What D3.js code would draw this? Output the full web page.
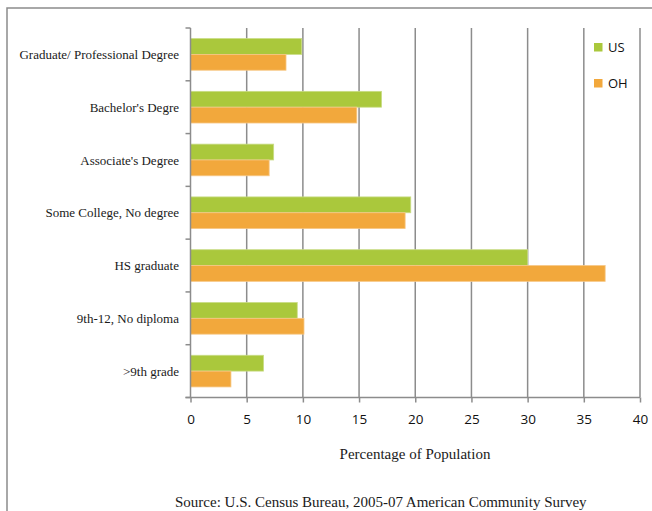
<!DOCTYPE html>
<html>
<head>
<meta charset="utf-8">
<script src="https://cdn.jsdelivr.net/npm/d3@7"></script>
<style>
  body { margin: 0; background: #fff; }
</style>
</head>
<body>
<div id="chart"></div>
<script>
const categories = ['Graduate/ Professional Degree', "Bachelor's Degre", "Associate's Degree",
  'Some College, No degree', 'HS graduate', '9th-12, No diploma', '>9th grade'];
const seriesNames = ['US', 'OH'];
const usValues = [9.9, 17.0, 7.4, 19.6, 30.0, 9.5, 6.5];
const ohValues = [8.5, 14.8, 7.0, 19.1, 36.9, 10.1, 3.6];
const xTicks = [0, 5, 10, 15, 20, 25, 30, 35, 40];
const colors = ['#aac83c', '#f2a83c'];

const data = categories.map((c, i) => ({ cat: c, values: [usValues[i], ohValues[i]] }));

const width = 652;
const height = 511;

const svg = d3.select('#chart')
  .append('svg')
  .attr('width', width)
  .attr('height', height);

// outer frame (top + left)
svg.append('path')
  .attr('d', `M7,511 V8 H652`)
  .attr('fill', 'none')
  .attr('stroke', '#8c8c8c')
  .attr('stroke-width', 1.5);

// plot area
const plotLeft = 190.5;
const plotRight = 640;
const plotTop = 28;
const plotBottom = 397.5;

const xScale = d3.scaleLinear().domain([0, 40]).range([plotLeft, plotRight]);
const yScale = d3.scaleBand().domain(categories).range([plotTop, plotBottom]).paddingInner(0.4).paddingOuter(0.2);
const yFull = d3.scaleBand().domain(categories).range([plotTop, plotBottom]);
const inner = d3.scaleBand().domain(seriesNames).range([0, yScale.bandwidth()]);

// gridlines
svg.append('g')
  .selectAll('line')
  .data(xTicks.slice(1))
  .enter()
  .append('line')
  .attr('x1', (d) => xScale(d))
  .attr('x2', (d) => xScale(d))
  .attr('y1', plotTop)
  .attr('y2', plotBottom)
  .attr('stroke', '#8c8c8c')
  .attr('stroke-width', 1.5);

// bars
const groups = svg.append('g')
  .selectAll('g')
  .data(data)
  .enter()
  .append('g')
  .attr('transform', (d) => `translate(0, ${yScale(d.cat)})`);

groups.selectAll('rect')
  .data((d) => d.values.map((v, i) => ({ key: seriesNames[i], v, i })))
  .enter()
  .append('rect')
  .attr('x', xScale(0))
  .attr('y', (d) => inner(d.key))
  .attr('width', (d) => xScale(d.v) - xScale(0))
  .attr('height', inner.bandwidth())
  .attr('fill', (d) => colors[d.i])
  .attr('stroke', (d) => (d.i === 0 ? '#c9dc86' : '#f7c887'))
  .attr('stroke-width', 0.8);

// y axis: line and category ticks
const yAxisG = svg.append('g').attr('transform', `translate(${plotLeft}, 0)`);
yAxisG.selectAll('line.t')
  .data(d3.range(categories.length + 1))
  .enter()
  .append('line')
  .attr('class', 't')
  .attr('x1', -5)
  .attr('x2', 0)
  .attr('y1', (i) => plotTop + i * yFull.step())
  .attr('y2', (i) => plotTop + i * yFull.step())
  .attr('stroke', '#8c8c8c')
  .attr('stroke-width', 1.5);
yAxisG.append('line')
  .attr('x1', 0).attr('x2', 0)
  .attr('y1', plotTop).attr('y2', plotBottom)
  .attr('stroke', '#8c8c8c')
  .attr('stroke-width', 1.5);

// category labels
svg.append('g')
  .selectAll('text')
  .data(categories)
  .enter()
  .append('text')
  .attr('x', 179)
  .attr('y', (d) => yFull(d) + yFull.bandwidth() / 2)
  .attr('dy', '0.35em')
  .attr('text-anchor', 'end')
  .attr('font-family', 'Liberation Serif, serif')
  .attr('font-size', 13)
  .attr('fill', '#1a1a1a')
  .text((d) => d);

// x axis
const xAxis = d3.axisBottom(xScale).tickValues(xTicks).tickSize(5).tickPadding(12).tickFormat(d3.format('d'));
const xAxisG = svg.append('g').attr('transform', `translate(0, ${plotBottom})`).call(xAxis);
xAxisG.select('.domain')
  .attr('d', `M${plotLeft - 5},0H${plotRight}`)
  .attr('stroke', '#8c8c8c')
  .attr('stroke-width', 1.5);
xAxisG.selectAll('.tick line').attr('stroke', '#8c8c8c').attr('stroke-width', 1.5);
xAxisG.selectAll('.tick text')
  .attr('font-family', 'Open Sans, sans-serif')
  .attr('font-size', 13.5)
  .attr('fill', '#111');

// axis title
svg.append('text')
  .attr('x', 415)
  .attr('y', 459)
  .attr('text-anchor', 'middle')
  .attr('font-family', 'Liberation Serif, serif')
  .attr('font-size', 15)
  .attr('fill', '#1a1a1a')
  .text('Percentage of Population');

// source
svg.append('text')
  .attr('x', 175)
  .attr('y', 507)
  .attr('font-family', 'Liberation Serif, serif')
  .attr('font-size', 15)
  .attr('fill', '#1a1a1a')
  .text('Source: U.S. Census Bureau, 2005-07 American Community Survey');

// legend
const legend = svg.append('g')
  .selectAll('g')
  .data(seriesNames)
  .enter()
  .append('g')
  .attr('transform', (d, i) => `translate(594, ${43 + i * 36})`);
legend.append('rect')
  .attr('width', 8.5)
  .attr('height', 8.5)
  .attr('fill', (d, i) => colors[i]);
legend.append('text')
  .attr('x', 14)
  .attr('y', 4.5)
  .attr('dy', '0.35em')
  .attr('font-family', 'Open Sans, sans-serif')
  .attr('font-size', 13)
  .attr('fill', '#111')
  .text((d) => d);
</script>
</body>
</html>
